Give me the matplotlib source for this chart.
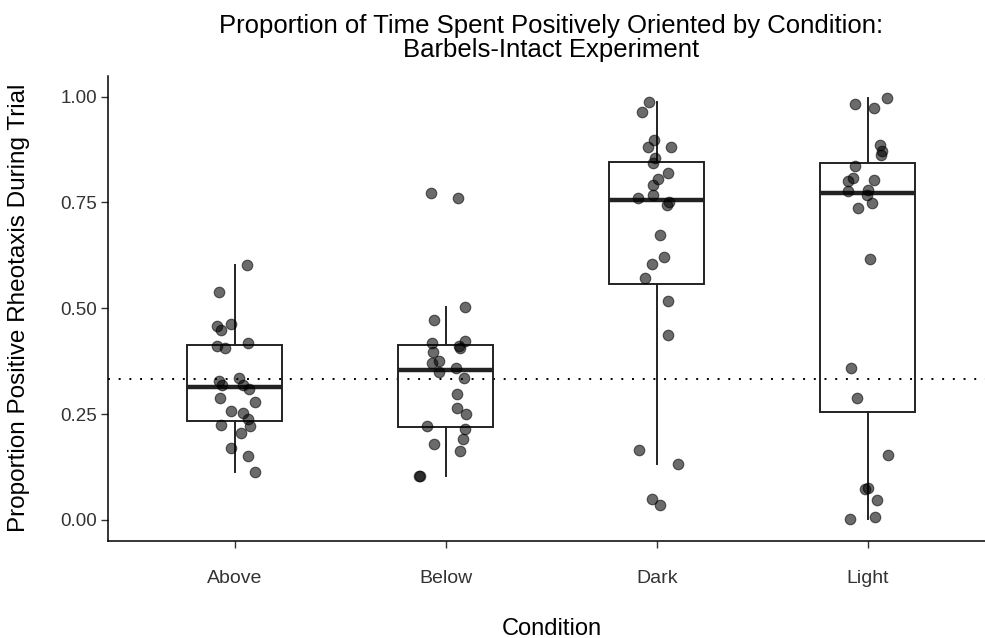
import numpy as np
import matplotlib
matplotlib.use("Agg")
from matplotlib import pyplot as plt

plt.rcParams['font.family'] = ['Liberation Sans', 'DejaVu Sans']

conditions = ['Above', 'Below', 'Dark', 'Light']

# proportion of time with positive rheotaxis
above = [0.602, 0.539, 0.463, 0.458, 0.449, 0.417, 0.411, 0.405, 0.329, 0.335,
         0.319, 0.319, 0.309, 0.289, 0.278, 0.257, 0.252, 0.238, 0.222, 0.224,
         0.206, 0.169, 0.151, 0.112]
below = [0.772, 0.761, 0.502, 0.472, 0.423, 0.417, 0.411, 0.407, 0.396, 0.376,
         0.370, 0.358, 0.349, 0.336, 0.298, 0.264, 0.250, 0.222, 0.214, 0.191,
         0.180, 0.163, 0.104, 0.104]
dark = [0.987, 0.963, 0.898, 0.882, 0.880, 0.854, 0.843, 0.819, 0.805, 0.791,
        0.768, 0.761, 0.752, 0.744, 0.672, 0.621, 0.604, 0.571, 0.518, 0.438,
        0.165, 0.132, 0.049, 0.035]
light = [0.996, 0.983, 0.974, 0.886, 0.872, 0.862, 0.836, 0.807, 0.801, 0.803,
         0.778, 0.780, 0.768, 0.748, 0.736, 0.617, 0.358, 0.287, 0.154, 0.072,
         0.076, 0.047, 0.006, 0.002]

# horizontal jitter of each point (category units), as seen in the chart
above_jit = [0.055, -0.074, -0.019, -0.084, -0.066, 0.063, -0.087, -0.047, -0.076, 0.019,
             -0.060, 0.039, 0.066, -0.071, 0.096, -0.019, 0.039, 0.063, 0.071, -0.068,
             0.028, -0.019, 0.060, 0.096]
below_jit = [-0.073, 0.058, 0.090, -0.055, 0.090, -0.068, 0.063, 0.066, -0.060, -0.033,
             -0.065, 0.046, -0.033, 0.087, 0.052, 0.051, 0.096, -0.091, 0.091, 0.079,
             -0.055, 0.066, -0.130, -0.124]
dark_jit = [-0.038, -0.070, -0.013, 0.066, -0.044, -0.009, -0.018, 0.054, 0.006, -0.018,
            -0.018, -0.089, 0.057, 0.046, 0.014, 0.035, -0.025, -0.055, 0.054, 0.054,
            -0.087, 0.098, -0.024, 0.014]
light_jit = [0.088, -0.062, 0.030, 0.057, 0.065, 0.060, -0.062, -0.070, -0.093, 0.028,
             -0.096, -0.001, -0.003, 0.021, -0.049, 0.009, -0.082, -0.052, 0.093, -0.014,
             -0.001, 0.045, 0.035, -0.085]

chance = 1 / 3

groups = [above, below, dark, light]
jitters = [above_jit, below_jit, dark_jit, light_jit]
pos = np.arange(1, len(conditions) + 1)

fig = plt.figure(figsize=(9.85, 6.38), dpi=100)
ax = fig.add_axes([0.110, 0.152, 0.8997, 0.7296])

ax.axhline(chance, color='black', linestyle=(0, (1, 4.5)), linewidth=1.4, zorder=1)

ax.boxplot(groups, positions=pos, widths=0.45, whis=1.5, showfliers=False,
           showcaps=False, patch_artist=True,
           boxprops=dict(facecolor='none', edgecolor='#222222', linewidth=1.4),
           whiskerprops=dict(color='#222222', linewidth=1.4),
           medianprops=dict(color='#222222', linewidth=3.2),
           zorder=2)

for p, vals, jit in zip(pos, groups, jitters):
    ax.scatter(p + np.array(jit), vals, s=58, color='black', alpha=0.58,
               edgecolors='black', linewidths=0.8, zorder=3)

ax.set_xlim(0.4, 4.6)
ax.set_ylim(-0.05, 1.05)
ax.set_xticks(pos)
ax.set_xticklabels(conditions)
ax.set_yticks([0, 0.25, 0.5, 0.75, 1.0])
ax.set_yticklabels(['0.00', '0.25', '0.50', '0.75', '1.00'])

for s in ['top', 'right']:
    ax.spines[s].set_visible(False)
for s in ['left', 'bottom']:
    ax.spines[s].set_linewidth(1.1)

ax.tick_params(axis='both', labelsize=13.5, colors='#333333', length=5, width=1)
ax.tick_params(axis='x', labelsize=14, pad=16)
ax.tick_params(axis='y', pad=3)

ax.set_xlabel('Condition', fontsize=17, labelpad=22)
ax.set_ylabel('Proportion Positive Rheotaxis During Trial', fontsize=17.5, labelpad=22)
ax.set_title('Proportion of Time Spent Positively Oriented by Condition:\nBarbels-Intact Experiment',
             fontsize=18.5, pad=13, linespacing=1.05)

fig.savefig('out.png', dpi=100)
